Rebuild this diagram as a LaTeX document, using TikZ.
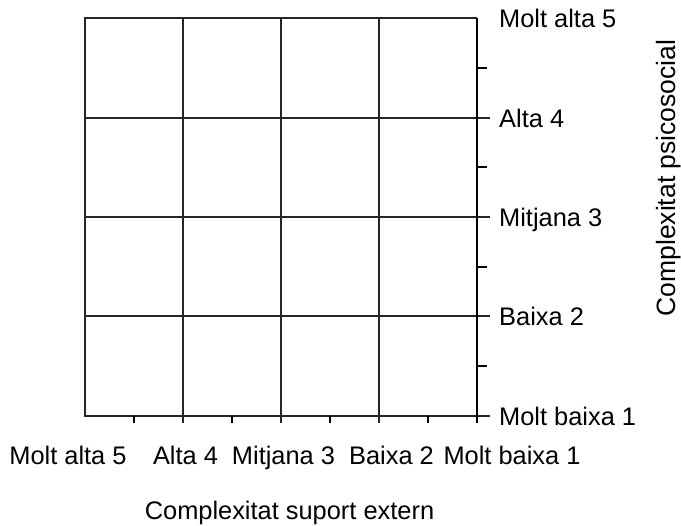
\documentclass[tikz,border=0pt]{standalone}
\usepackage{fontspec}
\setmainfont{Liberation Sans}
\begin{document}
\begin{tikzpicture}[x=1pt,y=1pt,
  gridline/.style={draw=black!85,line width=1.8pt},
  axisline/.style={draw=black,line width=1.9pt},
  lbl/.style={inner sep=0pt,font=\fontsize{25.4}{30}\selectfont},
]
\useasboundingbox (0,0) rectangle (681,526);
% corner coordinates
\coordinate (tl) at (85,508);
\coordinate (bl) at (85,110);
\coordinate (tr) at (477,508);
\coordinate (br) at (477,110);
% frame (left, top, bottom)
\draw[gridline] (tr) -- (tl) -- (bl) -- (br);
% vertical interior lines, extending below as ticks
\foreach \i/\x in {1/183,2/281,3/379}{
  \coordinate (vt\i) at (\x,508);
  \coordinate (vb\i) at (\x,103);
  \draw[gridline] (vt\i) -- (vb\i);
}
% horizontal interior lines, extending right as ticks
\foreach \i/\y in {1/408,2/309,3/210}{
  \coordinate (hl\i) at (85,\y);
  \coordinate (hr\i) at (490,\y);
  \draw[gridline] (hl\i) -- (hr\i);
}
% bottom-right tick
\coordinate (brt) at (490,110);
\draw[gridline] (br) -- (brt);
% right axis
\coordinate (axb) at (477,103);
\draw[axisline] (tr) -- (axb);
% right minor ticks
\foreach \i/\y in {1/458,2/359,3/259,4/160}{
  \coordinate (rm\i) at (477,\y);
  \coordinate (rme\i) at (487,\y);
  \draw[axisline] (rm\i) -- (rme\i);
}
% bottom minor ticks
\foreach \i/\x in {1/134,2/232,3/330,4/428}{
  \coordinate (bm\i) at (\x,110);
  \coordinate (bme\i) at (\x,103);
  \draw[axisline] (bm\i) -- (bme\i);
}
% right labels
\node[lbl,anchor=base west] (r5) at (499,498.9) {Molt alta 5};
\node[lbl,anchor=base west] (r4) at (499,398.9) {Alta 4};
\node[lbl,anchor=base west] (r3) at (499,299.9) {Mitjana 3};
\node[lbl,anchor=base west] (r2) at (499,200.9) {Baixa 2};
\node[lbl,anchor=base west] (r1) at (499,100.9) {Molt baixa 1};
% bottom labels
\node[lbl,anchor=base] (b5) at (68,61) {Molt alta 5};
\node[lbl,anchor=base] (b4) at (185.5,61) {Alta 4};
\node[lbl,anchor=base] (b3) at (283.5,61) {Mitjana 3};
\node[lbl,anchor=base] (b2) at (391.5,61) {Baixa 2};
\node[lbl,anchor=base] (b1) at (512,61) {Molt baixa 1};
% axis titles
\node[lbl,anchor=base] (xt) at (289.5,6) {Complexitat suport extern};
\node[inner sep=0pt,font=\fontsize{26.5}{30}\selectfont,anchor=base,rotate=90] (yt) at (675,348) {Complexitat psicosocial};
\end{tikzpicture}
\end{document}
